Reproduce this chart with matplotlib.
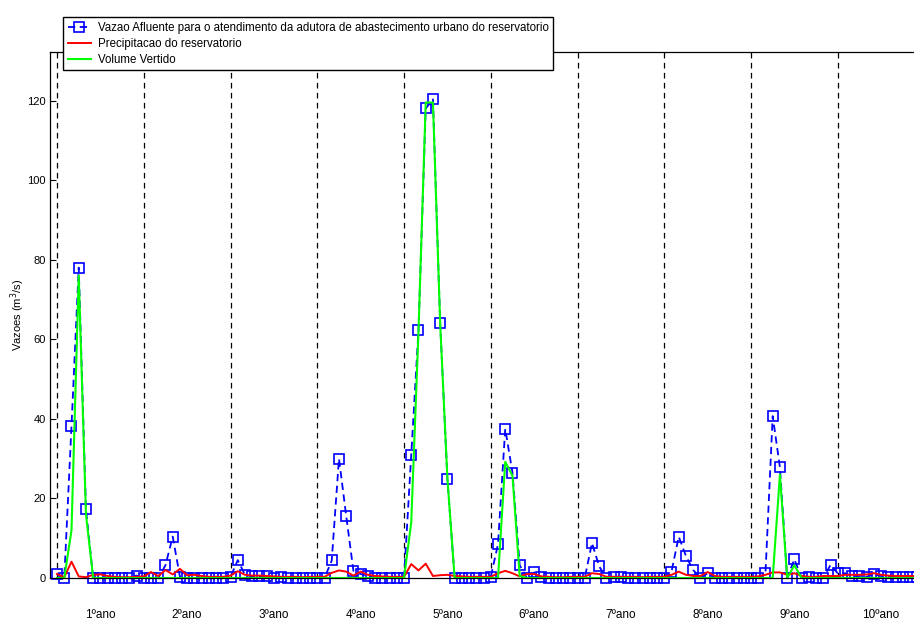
import matplotlib
matplotlib.use("Agg")
import matplotlib.pyplot as plt

plt.rcParams['font.family'] = ['Liberation Sans', 'DejaVu Sans']

# meses 1..120 (10 anos)
meses = list(range(1, 121))

vazao_afluente = [
    1.0, 0, 38.2, 78, 17.3, 0, 0, 0, 0, 0, 0, 0.6,
    0, 0, 0, 3.2, 10.4, 0.3, 0, 0, 0, 0, 0, 0,
    0.3, 4.5, 0.8, 0.4, 0.4, 0.4, 0, 0.3, 0, 0, 0, 0,
    0, 0, 4.4, 30, 15.6, 1.8, 1.0, 0.5, 0, 0, 0, 0,
    0, 31, 62.3, 118, 120.3, 64, 24.9, 0, 0, 0, 0, 0,
    0.3, 8.5, 37.5, 26.5, 3.2, 0, 1.4, 0.3, 0, 0, 0, 0,
    0, 0, 8.8, 2.9, 0, 0.3, 0.3, 0, 0, 0, 0, 0,
    0, 1.6, 10.4, 5.5, 2.0, 0, 1.2, 0, 0, 0, 0, 0,
    0, 0, 1.2, 40.7, 27.8, 0, 4.7, 0, 0.3, 0, 0, 3.3,
    1.2, 1.2, 0.5, 0.5, 0.3, 0.9, 0.5, 0.3, 0.3, 0.3, 0.3, 0.3,
]

precipitacao = [
    1.0, 0.2, 4.1, 0.4, 0.2, 0.8, 0.9, 0.5, 0.3, 0.2, 0.2, 0.3,
    0.4, 1.5, 0.5, 2.0, 0.9, 2.3, 0.7, 0.8, 0.5, 0.3, 0.3, 0.3,
    0.6, 1.7, 0.8, 0.6, 0.6, 0.5, 0.4, 0.3, 0.3, 0.3, 0.2, 0.3,
    0.3, 0.3, 1.3, 1.9, 1.6, 0.6, 1.6, 0.8, 0.5, 0.4, 0.3, 0.3,
    0.3, 3.5, 1.9, 3.6, 0.5, 0.7, 0.8, 0.5, 0.4, 0.3, 0.3, 0.3,
    0.3, 1.2, 1.8, 1.2, 0.4, 1.0, 1.0, 0.4, 0.3, 0.2, 0.2, 0.3,
    0.3, 0.3, 1.2, 1.0, 0.3, 0.3, 0.3, 0.3, 0.3, 0.2, 0.3, 0.3,
    0.3, 0.8, 1.6, 0.8, 0.5, 0.5, 1.5, 0.5, 0.3, 0.3, 0.3, 0.3,
    0.3, 0.4, 0.8, 1.4, 1.4, 0.8, 1.2, 0.5, 0.3, 0.3, 0.5, 0.5,
    0.5, 0.8, 0.8, 0.8, 0.9, 1.2, 0.8, 0.6, 0.5, 0.5, 0.5, 0.5,
]

volume_vertido = [
    0, 0, 12, 76, 16, 0, 0, 0, 0, 0, 0, 0,
    0, 0, 0, 0, 0, 0, 0, 0, 0, 0, 0, 0,
    0, 0, 0, 0, 0, 0, 0, 0, 0, 0, 0, 0,
    0, 0, 0, 0, 0, 0, 0, 0, 0, 0, 0, 0,
    0, 14, 62, 119.5, 119.5, 64, 25, 0, 0, 0, 0, 0,
    0, 0, 29.2, 25.7, 0.5, 0, 0, 0, 0, 0, 0, 0,
    0, 0, 0, 0, 0, 0, 0, 0, 0, 0, 0, 0,
    0, 0, 0, 0, 0, 0, 0, 0, 0, 0, 0, 0,
    0, 0, 0, 0, 26, 0, 3.2, 0, 0, 0, 0, 0,
    0, 0, 0, 0, 0, 0, 0, 0, 0, 0, 0, 0,
]

anos = ["%dºano" % k for k in range(1, 11)]
inicio_ano = [1 + 12 * k for k in range(10)]

fig = plt.figure(figsize=(9.14, 6.21), dpi=100)
ax = fig.add_axes([0.0545, 1 - 578 / 621, 0.957, 526 / 621])

for x in inicio_ano:
    ax.axvline(x, color='black', lw=0.9, ls=(0, (4.5, 3.5)), zorder=1)

ax.plot(meses, vazao_afluente, color='blue', ls=(0, (4, 2.5)), lw=1.3,
        marker='s', markersize=6.8, markerfacecolor='none',
        markeredgecolor='blue', markeredgewidth=1.2, clip_on=False,
        label='Vazao Afluente para o atendimento da adutora de abastecimento urbano do reservatorio')
ax.plot(meses, precipitacao, color='red', lw=1.4, clip_on=False,
        label='Precipitacao do reservatorio')
ax.plot(meses, volume_vertido, color='#00ff00', lw=1.5, clip_on=False,
        label='Volume Vertido')

ax.set_xlim(0, 121)
ax.set_ylim(0, 132.2)
ax.set_yticks(range(0, 121, 20))
ax.set_xticks([])
ax.tick_params(axis='y', direction='in', length=4, labelsize=8, pad=3)
for s in ax.spines.values():
    s.set_linewidth(0.9)
    s.set_zorder(3)
ax.spines['right'].set_visible(False)

for k, nome in enumerate(anos):
    ax.text(inicio_ano[k] + 6, -9.3, nome, ha='center', va='center', fontsize=8.5)

ax.set_ylabel('Vazoes (m$^3$/s)', fontsize=8, labelpad=0)

leg = fig.legend(loc='upper left', bbox_to_anchor=(63 / 914, 1 - 17 / 621),
                 fontsize=8.3, frameon=True, fancybox=False, framealpha=1,
                 edgecolor='black', borderpad=0.4, labelspacing=0.35,
                 handlelength=2.0, handletextpad=0.6, borderaxespad=0)
leg.get_frame().set_linewidth(1.0)

fig.savefig("out.png", dpi=100)
